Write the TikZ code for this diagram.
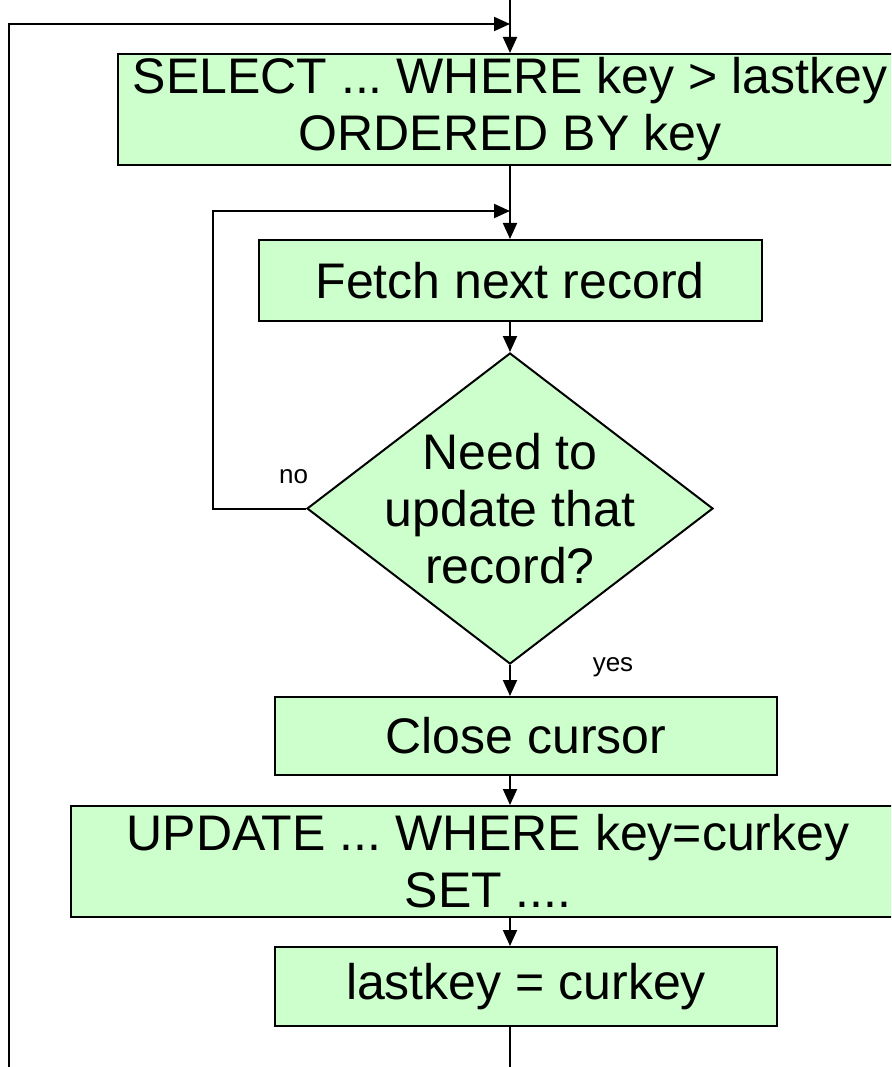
\documentclass[tikz,border=0pt]{standalone}
\usepackage{fontspec}
\setmainfont{Liberation Sans}
\usepackage{tikz}
\usetikzlibrary{arrows.meta,shapes.geometric}
\definecolor{boxgreen}{HTML}{CCFFCC}
\newcommand{\boxfont}{\fontsize{50}{57}\selectfont}
\newcommand{\labelfont}{\fontsize{26}{30}\selectfont}
\frenchspacing

\begin{document}
\begin{tikzpicture}
  [x=1pt, y=-1pt,
   stepbox/.style={draw=black, line width=2pt, fill=boxgreen, inner sep=0,
                   align=center, font=\boxfont},
   decision/.style={shape=diamond, draw=black, line width=2pt, fill=boxgreen,
                    inner sep=0},
   link/.style={line width=2pt, -{Triangle[length=16pt, width=14pt]}},
   plain/.style={line width=2pt}]

  \useasboundingbox (0,0) rectangle (891,1067);
  \clip (0,0) rectangle (891,1067);

  % steps
  \node[stepbox, minimum width=784pt, minimum height=111pt] (select) at (510,109.5)
    {SELECT ... WHERE key > lastkey\\ORDERED BY key};
  \node[stepbox, minimum width=503pt, minimum height=81pt] (fetch) at (510,280.5)
    {Fetch next record};

  % decision
  \node[decision, minimum width=406pt, minimum height=311pt] (check) at (510,508.5) {};
  \node[align=center, font=\boxfont, inner sep=0] (checktext) at (check.center)
    {Need to\\update that\\record?};
  \node[font=\labelfont, inner sep=0, anchor=base] (nolabel) at (293.5,483) {no};
  \node[font=\labelfont, inner sep=0, anchor=base] (yeslabel) at (613,671) {yes};

  \node[stepbox, minimum width=502pt, minimum height=78pt] (close) at (526,736)
    {Close cursor};
  \node[stepbox, minimum width=834pt, minimum height=111pt] (update) at (488,861.5)
    {UPDATE ... WHERE key=curkey\\SET ....};
  \node[stepbox, minimum width=502pt, minimum height=79pt] (last) at (526,986.5)
    {lastkey = curkey};

  % loose ends
  \coordinate (topin) at (510,-10);
  \coordinate (outerjoin) at (510,24);
  \coordinate (innerjoin) at (510,211);
  \coordinate (innerleft) at (213,508.5);
  \coordinate (lastout) at (510,1080);
  \coordinate (outerbot) at (9,1080);

  % main flow
  \draw[link] (topin) -- (select.north);
  \draw[link] (select.south) -- (fetch.north);
  \draw[link] (fetch.south) -- (check.north);
  \draw[link] (check.south) -- (check.south |- close.north);
  \draw[link] (check.south |- close.south) -- (check.south |- update.north);
  \draw[link] (check.south |- update.south) -- (check.south |- last.north);
  \draw[plain] (check.south |- last.south) -- (lastout);

  % loops
  \draw[link] (check.west) -- (innerleft) |- (innerjoin);
  \draw[link] (outerbot) |- (outerjoin);

\end{tikzpicture}
\end{document}
